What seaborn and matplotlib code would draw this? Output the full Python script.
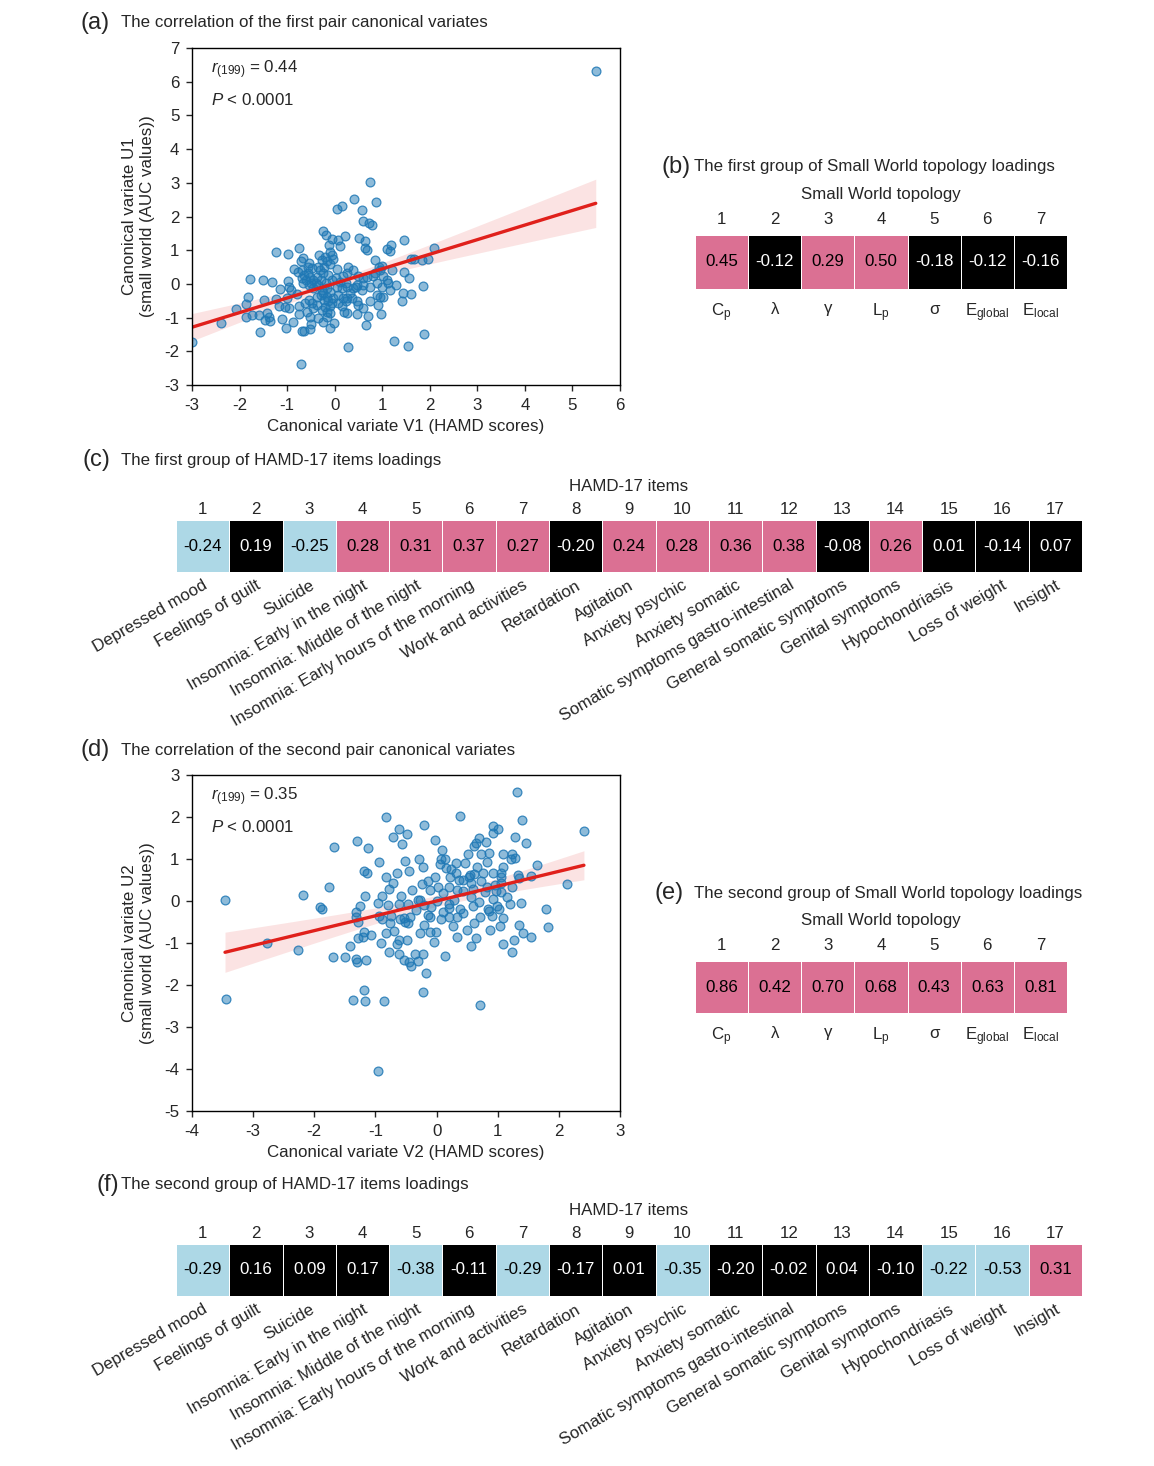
import numpy as np
import pandas as pd
import matplotlib
matplotlib.use("Agg")
import matplotlib.pyplot as plt
from matplotlib.colors import ListedColormap, BoundaryNorm
import seaborn as sns

# ---------------- data ----------------
# first pair of canonical variates (HAMD V1, small world U1)
v1 = [0.74, 0.41, 0.86, 0.15, 0.04, 0.57, 0.60, 0.72, 0.79, -0.25,
      -0.18, 0.22, 0.52, -0.05, 0.06, 0.64, -0.12, 0.11, 0.63, 0.67,
      1.46, 1.18, 1.11, 1.16, -1.23, -0.98, -0.74, -0.10, -0.05, -0.33,
      -0.71, -0.54, -0.27, -0.17, -0.35, -0.22, -0.10, 0.05, 0.28, 0.85,
      0.94, 1.00, 1.60, 1.66, 1.84, 1.96, 2.08, -0.85, -0.78, -0.69,
      -0.64, -0.57, -0.52, -0.45, -0.38, -0.25, -0.13, 0.18, 0.50, 0.60,
      0.69, 0.85, 0.95, 1.20, 1.45, 1.57, -1.77, -1.51, -1.32, -0.99,
      -0.97, -0.92, -1.16, -0.80, -0.66, -0.55, -0.45, -0.34, -0.27, -0.17,
      -0.10, 0.04, 0.15, 0.25, 0.38, 0.44, 0.60, 0.74, 0.88, 0.99,
      1.13, 1.30, 1.85, -1.82, -1.87, -2.07, -1.49, -1.23, -1.01, -1.18,
      -1.04, -0.95, -0.76, -0.62, -0.55, -0.48, -0.38, -0.24, -0.17, -0.03,
      0.08, 0.18, 0.25, 0.32, 0.46, 0.50, 0.60, 0.74, 0.88, 0.95,
      1.02, 1.16, 1.44, 1.60, 1.41, -1.73, -1.87, -1.60, -1.42, -1.38,
      -1.46, -1.36, -1.11, -0.88, -0.74, -0.52, -0.50, -0.34, -0.24, -0.17,
      -0.10, -0.01, 0.20, 0.25, 0.46, 0.71, 0.91, 0.97, 0.66, -2.39,
      -1.56, -1.02, -0.69, -0.64, -0.52, -0.10, 0.28, 1.25, 1.55, 1.88,
      -0.71, -2.99, 5.49,
      -0.66, -0.57, -0.48, -0.31, -0.21, -0.03, -0.69, -0.60, -0.50, -0.39,
      -0.29, -0.18, -0.06, 0.02, 0.11, 0.23, -0.29, -0.22, -0.15, -0.10,
      -0.21, -0.27, -0.17, -0.06, 0.06, 0.15, 0.23, 0.36, -0.38, -0.45,
      -0.59, 0.46, 0.57, 0.81, 1.02, 1.09, 0.25, 0.39]
u1 = [3.01, 2.52, 2.44, 2.32, 2.22, 2.20, 1.87, 1.82, 1.74, 1.58,
      1.45, 1.43, 1.37, 1.33, 1.29, 1.26, 1.14, 1.11, 1.08, 1.01,
      1.31, 1.15, 1.03, 0.98, 0.96, 0.89, 1.08, 0.96, 0.87, 0.87,
      0.69, 0.61, 0.71, 0.69, 0.51, 0.51, 0.59, 0.45, 0.49, 0.71,
      0.51, 0.54, 0.73, 0.73, 0.71, 0.73, 1.08, 0.44, 0.34, 0.42,
      0.27, 0.32, 0.19, 0.12, 0.20, 0.32, 0.27, 0.24, 0.24, 0.17,
      0.20, 0.32, 0.42, 0.42, 0.34, 0.17, 0.14, 0.12, 0.07, 0.10,
      -0.08, -0.18, -0.16, -0.30, 0.02, -0.03, -0.13, -0.03, -0.18, -0.13,
      -0.23, -0.08, -0.13, -0.08, -0.13, -0.08, -0.03, -0.08, 0.02, -0.08,
      0.02, -0.03, -0.06, -0.38, -0.61, -0.73, -0.49, -0.44, -0.41, -0.66,
      -0.68, -0.72, -0.67, -0.57, -0.47, -0.57, -0.38, -0.28, -0.38, -0.43,
      -0.33, -0.43, -0.43, -0.28, -0.52, -0.62, -0.72, -0.52, -0.33, -0.38,
      -0.38, -0.18, -0.28, -0.29, -0.52, -0.93, -0.99, -0.91, -0.87, -0.97,
      -1.07, -1.10, -1.04, -1.12, -0.90, -0.97, -1.19, -1.02, -1.12, -0.97,
      -0.87, -1.17, -0.84, -0.85, -0.89, -0.94, -0.64, -0.89, -1.22, -1.15,
      -1.42, -1.31, -1.40, -1.40, -1.33, -1.32, -1.86, -1.70, -1.85, -1.48,
      -2.38, -1.71, 6.32,
      0.76, 0.51, 0.46, 0.42, 0.79, 0.73, 0.17, 0.12, 0.02, 0.04,
      0.12, 0.02, 0.12, 0.17, 0.07, 0.04, -0.33, -0.47, -0.52, -0.67,
      -0.69, -0.77, -0.82, -0.57, -0.57, -0.67, -0.52, -0.43, -0.62, -0.72,
      -0.82, -0.03, -0.18, 0.22, 0.22, 0.12, 0.32, 0.42]

# second pair of canonical variates (HAMD V2, small world U2)
v2 = [1.31, 2.41, 1.39, 0.38, -0.82, -0.21, -0.62, -0.71, -0.48, 0.92,
      1.01, 0.92, 1.28, 1.46, -1.30, -1.68, -1.12, -0.56, -0.03, 0.09,
      0.70, 0.81, 0.64, 0.62, 0.52, 0.72, 0.86, 1.24, 1.22, 1.28,
      -0.94, -0.52, -0.28, 0.08, 0.14, 0.06, 0.23, 0.31, 0.46, 0.16,
      -0.45, -0.64, -1.18, -1.14, -0.83, -0.72, -0.14, -0.02, 0.31, 0.54,
      0.61, 0.53, 0.92, 1.09, 1.06, 1.05, 1.64, 1.55, 1.33, 1.34,
      -0.24, 0.22, 0.36, 0.44, 0.56, 0.72, 0.83, 0.96, 1.06, 1.24,
      -2.19, -1.76, -0.77, -0.41, 0.21, 0.33, 0.43, 0.59, 0.80, 0.97,
      1.05, -1.17, -0.89, -0.58, -0.30, -0.27, 0.01, 0.29, 0.21, 0.57,
      0.69, 0.92, 1.20, 1.38, 2.13, -1.91, -1.88, -1.26, -1.31, -0.96,
      -0.79, -0.61, -0.46, -0.20, -0.09, 0.20, 0.39, 0.44, 0.84, 0.86,
      0.99, 1.02, 0.91, 1.79, 1.83, -1.32, -1.29, -0.94, -0.89, -0.75,
      -0.59, -0.54, -0.52, -0.47, -0.21, -0.14, -0.10, 0.08, 0.20, 0.33,
      0.61, 0.49, 0.27, 1.04, 1.09, 1.34, 1.42, 1.55, -3.46,
      -2.78, -2.26, -1.70, -1.49, -1.42, -1.30, -1.31, -1.16, -1.18, -1.20,
      -1.07, -1.29, -0.91, -0.82, -0.69, -0.64, -0.62, -0.49, -0.78, -0.62,
      -0.54, -0.45, -0.42, -0.35, -0.23, -0.30, -0.18, -0.10, -0.01, -0.04,
      0.14, 0.64, 0.57, 1.08, 1.23, 1.26,
      -3.45, -1.36, -1.19, -1.17, -0.86, -0.22, 0.71, -0.95,
      -0.22, -0.11, 0.11, 0.03, 0.66, 0.76, 0.82, 1.15, 0.71, 0.60,
      0.11, -0.33, -0.44, -0.76, -0.27, 0.33, 0.87, 1.09]
u2 = [2.59, 1.67, 1.93, 2.03, 1.99, 1.81, 1.71, 1.53, 1.59, 1.79,
      1.71, 1.63, 1.53, 1.39, 1.44, 1.28, 1.26, 1.36, 1.46, 1.21,
      1.51, 1.40, 1.37, 1.32, 1.13, 1.11, 1.15, 1.13, 1.00, 1.03,
      0.94, 0.95, 1.01, 0.99, 1.00, 0.87, 0.76, 0.90, 0.91, 0.78,
      0.72, 0.67, 0.72, 0.66, 0.56, 0.44, 0.48, 0.58, 0.67, 0.63,
      0.65, 0.56, 0.66, 0.82, 0.66, 0.56, 0.86, 0.60, 0.61, 0.54,
      0.40, 0.56, 0.50, 0.50, 0.44, 0.48, 0.34, 0.38, 0.42, 0.34,
      0.14, 0.33, 0.29, 0.27, 0.33, 0.26, 0.25, 0.28, 0.22, 0.25,
      0.22, 0.13, 0.12, 0.12, 0.02, 0.02, -0.01, 0.02, -0.08, 0.10,
      -0.02, 0.04, -0.06, -0.04, 0.40, -0.15, -0.20, -0.11, -0.25, -0.04,
      -0.10, -0.06, -0.07, -0.10, -0.15, -0.17, -0.20, -0.29, -0.20, -0.23,
      -0.11, -0.20, -0.35, -0.20, -0.61, -0.39, -0.49, -0.36, -0.43, -0.36,
      -0.43, -0.41, -0.51, -0.53, -0.56, -0.33, -0.39, -0.43, -0.39, -0.39,
      -0.53, -0.69, -0.59, -0.60, -0.41, -0.57, -0.75, -0.85, 0.03,
      -0.99, -1.17, -1.33, -1.33, -1.07, -1.46, -1.37, -1.40, -0.73, -0.85,
      -0.81, -0.87, -1.01, -0.77, -0.71, -1.03, -0.93, -0.94, -1.21, -1.25,
      -1.40, -1.46, -1.54, -1.25, -1.27, -1.43, -1.72, -0.73, -0.73, -0.97,
      -1.31, -0.87, -1.07, -1.02, -1.21, -0.94,
      -2.33, -2.36, -2.13, -2.39, -2.37, -2.16, -2.48, -4.04,
      0.82, 0.26, 0.18, 0.34, 0.82, 0.66, 0.94, 0.10, -0.37, -0.13,
      -0.25, -0.21, -0.37, -0.53, -0.77, -0.85, -0.69, 1.13]

sw_labels = [r'$\mathrm{C_p}$', 'λ', 'γ', r'$\mathrm{L_p}$', 'σ',
             r'$\mathrm{E_{global}}$', r'$\mathrm{E_{local}}$']
sw_load1 = [0.45, -0.12, 0.29, 0.50, -0.18, -0.12, -0.16]
sw_load2 = [0.86, 0.42, 0.70, 0.68, 0.43, 0.63, 0.81]

hamd_items = ['Depressed mood', 'Feelings of guilt', 'Suicide',
              'Insomnia: Early in the night', 'Insomnia: Middle of the night',
              'Insomnia: Early hours of the morning', 'Work and activities',
              'Retardation', 'Agitation', 'Anxiety psychic', 'Anxiety somatic',
              'Somatic symptoms gastro-intestinal', 'General somatic symptoms',
              'Genital symptoms', 'Hypochondriasis', 'Loss of weight', 'Insight']
hamd_load1 = [-0.24, 0.19, -0.25, 0.28, 0.31, 0.37, 0.27, -0.20, 0.24,
              0.28, 0.36, 0.38, -0.08, 0.26, 0.01, -0.14, 0.07]
hamd_load2 = [-0.29, 0.16, 0.09, 0.17, -0.38, -0.11, -0.29, -0.17, 0.01,
              -0.35, -0.20, -0.02, 0.04, -0.10, -0.22, -0.53, 0.31]

# ---------------- style ----------------
sns.set_style('ticks')
plt.rcParams['font.family'] = ['Liberation Sans', 'DejaVu Sans']
plt.rcParams['axes.unicode_minus'] = False
plt.rcParams['mathtext.fontset'] = 'custom'
plt.rcParams['mathtext.rm'] = 'Liberation Sans'
plt.rcParams['mathtext.it'] = 'Liberation Sans:italic'
plt.rcParams['axes.edgecolor'] = 'black'

W, H = 1154, 1466
FS = 12.2
fig = plt.figure(figsize=(W / 100, H / 100), dpi=100)

PINK = '#db7093'
LBLUE = '#add8e6'
RED = '#e0201b'
cmap = ListedColormap([LBLUE, 'black', PINK])
norm = BoundaryNorm([-1, -0.2, 0.2, 1], 3)
BLUE = np.array([0.12, 0.47, 0.71])


def box(l, t, r, b):
    return [l / W, 1 - b / H, (r - l) / W, (b - t) / H]


def ftext(px, py, s, **kw):
    fig.text(px / W, 1 - py / H, s, **kw)


def scatter_panel(rect, x, y, xlim, ylim, xlabel, ylabel, rtxt):
    ax = fig.add_axes(rect)
    x = np.array(x)
    y = np.array(y)
    sns.regplot(x=x, y=y, ax=ax, ci=None,
                scatter_kws={'s': 40, 'facecolor': (*BLUE, 0.5),
                             'edgecolor': (*BLUE, 0.85), 'alpha': None,
                             'linewidths': 0.9},
                line_kws={'color': RED, 'lw': 2.4})
    # analytic 95% confidence band of the fitted line
    b, a = np.polyfit(x, y, 1)
    n = len(x)
    grid = np.linspace(x.min(), x.max(), 100)
    s = np.sqrt(np.sum((y - (a + b * x)) ** 2) / (n - 2))
    se = s * np.sqrt(1 / n + (grid - x.mean()) ** 2 / np.sum((x - x.mean()) ** 2))
    fit = a + b * grid
    ax.fill_between(grid, fit - 1.97 * se, fit + 1.97 * se, color=RED,
                    alpha=0.12, lw=0, zorder=0)
    ax.set_xlim(*xlim)
    ax.set_ylim(*ylim)
    ax.set_xticks(np.arange(xlim[0], xlim[1] + 1))
    ax.set_yticks(np.arange(ylim[0], ylim[1] + 1))
    for sp in ax.spines.values():
        sp.set_visible(True)
        sp.set_linewidth(1)
    ax.tick_params(labelsize=FS, length=4, width=1, direction='out', pad=5)
    ax.set_xlabel(xlabel, fontsize=FS, labelpad=5)
    ax.set_ylabel(ylabel, fontsize=FS, labelpad=7)
    ax.text(0.045, 0.935, rtxt, transform=ax.transAxes, fontsize=FS, va='center')
    ax.text(0.045, 0.846, r'$P$ < 0.0001', transform=ax.transAxes,
            fontsize=FS, va='center')
    return ax


def loading_map(rect, values, labels, top_title, rot, top_pad, title_pad):
    ax = fig.add_axes(rect)
    n = len(values)
    sns.heatmap(pd.DataFrame([values]), ax=ax, cmap=cmap, norm=norm,
                annot=True, fmt='.2f', cbar=False, linewidths=0.7,
                linecolor='white', annot_kws={'fontsize': FS})
    for t, v in zip(ax.texts, values):
        t.set_color('white' if -0.2 <= v < 0.2 else 'black')
    ax.set_yticks([])
    pos = np.arange(n) + 0.5
    ax.set_xticks(pos)
    if rot:
        ax.set_xticklabels(labels, rotation=rot, ha='right',
                           rotation_mode='anchor', fontsize=FS)
        ax.tick_params(axis='x', length=0, pad=4)
    else:
        ax.set_xticklabels(labels, rotation=0, fontsize=FS)
        ax.tick_params(axis='x', length=0, pad=9)
    top = ax.secondary_xaxis('top')
    top.set_xticks(pos, labels=[str(i + 1) for i in range(n)])
    top.tick_params(length=0, pad=top_pad, labelsize=FS)
    for sp in top.spines.values():
        sp.set_visible(False)
    top.set_xlabel(top_title, fontsize=FS, labelpad=title_pad)
    return ax


# (a)
scatter_panel(box(192, 48, 620, 385), v1, u1, (-3, 6), (-3, 7),
              'Canonical variate V1 (HAMD scores)',
              'Canonical variate U1\n(small world (AUC values))',
              r'$r_{(199)}$ = 0.44')
ftext(81, 23, '(a)', fontsize=17, va='center')
ftext(121, 23, 'The correlation of the first pair canonical variates',
      fontsize=FS, va='center')

# (b)
loading_map(box(695, 235, 1067, 289), sw_load1, sw_labels,
            'Small World topology', 0, 6, 9)
ftext(661, 167, '(b)', fontsize=17, va='center')
ftext(694, 167, 'The first group of Small World topology loadings',
      fontsize=FS, va='center')

# (c)
loading_map(box(176, 520, 1082, 572), hamd_load1, hamd_items,
            'HAMD-17 items', 30, 2, 8)
ftext(82, 460, '(c)', fontsize=17, va='center')
ftext(121, 460, 'The first group of HAMD-17 items loadings',
      fontsize=FS, va='center')

# (d)
scatter_panel(box(192, 775, 620, 1111), v2, u2, (-4, 3), (-5, 3),
              'Canonical variate V2 (HAMD scores)',
              'Canonical variate U2\n(small world (AUC values))',
              r'$r_{(199)}$ = 0.35')
ftext(81, 750, '(d)', fontsize=17, va='center')
ftext(121, 750, 'The correlation of the second pair canonical variates',
      fontsize=FS, va='center')

# (e)
loading_map(box(695, 961, 1067, 1013), sw_load2, sw_labels,
            'Small World topology', 0, 6, 9)
ftext(655, 893, '(e)', fontsize=17, va='center')
ftext(694, 893, 'The second group of Small World topology loadings',
      fontsize=FS, va='center')

# (f)
loading_map(box(176, 1244, 1082, 1296), hamd_load2, hamd_items,
            'HAMD-17 items', 30, 2, 8)
ftext(96, 1185, '(f)', fontsize=17, va='center')
ftext(121, 1185, 'The second group of HAMD-17 items loadings',
      fontsize=FS, va='center')

fig.savefig('out.png', dpi=100)
